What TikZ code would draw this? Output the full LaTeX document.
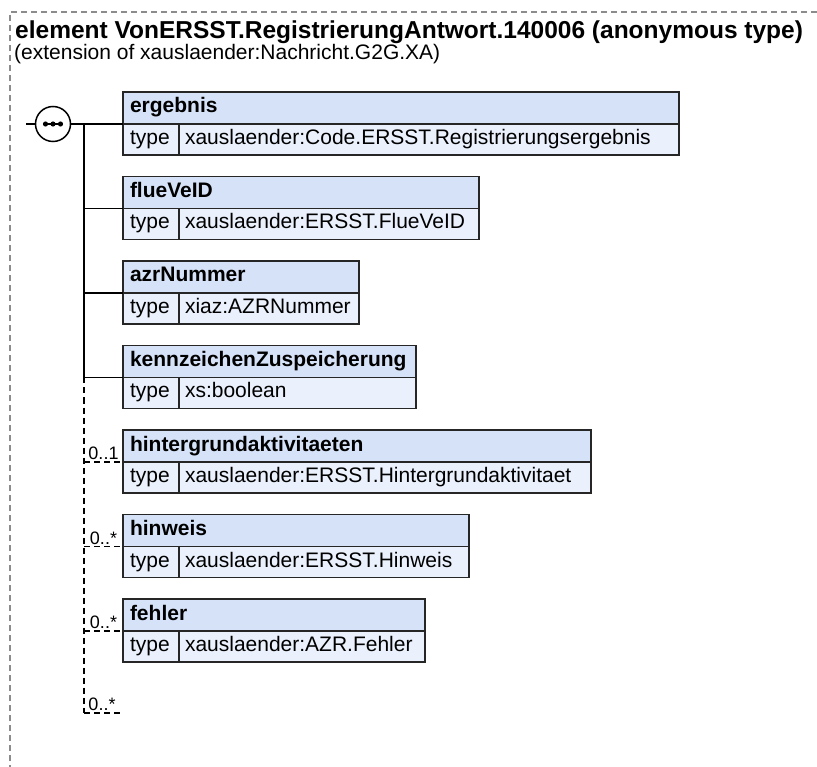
\documentclass[tikz,border=0pt]{standalone}
\usepackage{fontspec}
\setmainfont{Liberation Sans}
\usepackage{tikz}
\usetikzlibrary{positioning}
\definecolor{hdrblue}{HTML}{D5E2F7}
\definecolor{typeblue}{HTML}{EAF1FC}

\begin{document}
\begin{tikzpicture}[
  x=1pt, y=-1pt,
  font=\fontsize{21}{25}\selectfont,
  cell/.style={draw=black!85, line width=1.5pt, outer sep=0pt, inner ysep=0pt, text height=15pt, text depth=5pt, align=left},
  hdr/.style={cell, fill=hdrblue, minimum height=32pt, inner xsep=7pt, text width=#1, font=\fontsize{21}{25}\selectfont\bfseries},
  tkey/.style={cell, fill=typeblue, minimum height=31pt, inner xsep=7pt, text width=42pt},
  tval/.style={cell, fill=typeblue, minimum height=31pt, inner xsep=6pt, text width=#1},
  seq/.style={draw, circle, line width=1.5pt, outer sep=0pt, fill=white, minimum size=35pt, inner sep=0pt},
  link/.style={line width=1.5pt},
  opt/.style={link, dash pattern=on 6pt off 4pt},
  card/.style={font=\fontsize{18}{20}\selectfont, inner sep=1.5pt},
  frame/.style={draw=black!45, line width=1.4pt, dash pattern=on 6pt off 4pt}
]
\useasboundingbox (0,0) rectangle (817,767);
\draw[frame] (817,12) -- (10,12) -- (10,767);
\node[anchor=base west, inner sep=0pt, font=\fontsize{24.5}{28}\selectfont\bfseries] (title) at (15,39) {element VonERSST.RegistrierungAntwort.140006 (anonymous type)};
\node[anchor=base west, inner sep=0pt] (sub) at (14,60) {(extension of xauslaender:Nachricht.G2G.XA)};

% child elements
\node[hdr=542pt, anchor=north west] (h1) at (123,92) {ergebnis};
\node[tkey] (t1) [below right=0pt and 0pt of h1.south west] {type};
\node[tval=488pt, anchor=north west] (v1) at (t1.north east) {xauslaender:Code.ERSST.Registrierungsergebnis};

\node[hdr=342pt] (h2) [below right=21.5pt and 0pt of t1.south west] {flueVeID};
\node[tkey] (t2) [below right=0pt and 0pt of h2.south west] {type};
\node[tval=288pt, anchor=north west] (v2) at (t2.north east) {xauslaender:ERSST.FlueVeID};

\node[hdr=222pt] (h3) [below right=21.5pt and 0pt of t2.south west] {azrNummer};
\node[tkey] (t3) [below right=0pt and 0pt of h3.south west] {type};
\node[tval=168pt, anchor=north west] (v3) at (t3.north east) {xiaz:AZRNummer};

\node[hdr=279pt] (h4) [below right=21.5pt and 0pt of t3.south west] {kennzeichenZuspeicherung};
\node[tkey] (t4) [below right=0pt and 0pt of h4.south west] {type};
\node[tval=225pt, anchor=north west] (v4) at (t4.north east) {xs:boolean};

\node[hdr=454pt] (h5) [below right=21.5pt and 0pt of t4.south west] {hintergrundaktivitaeten};
\node[tkey] (t5) [below right=0pt and 0pt of h5.south west] {type};
\node[tval=400pt, anchor=north west] (v5) at (t5.north east) {xauslaender:ERSST.Hintergrundaktivitaet};

\node[hdr=332pt] (h6) [below right=21.5pt and 0pt of t5.south west] {hinweis};
\node[tkey] (t6) [below right=0pt and 0pt of h6.south west] {type};
\node[tval=278pt, anchor=north west] (v6) at (t6.north east) {xauslaender:ERSST.Hinweis};

\node[hdr=288pt] (h7) [below right=21.5pt and 0pt of t6.south west] {fehler};
\node[tkey] (t7) [below right=0pt and 0pt of h7.south west] {type};
\node[tval=234pt, anchor=north west] (v7) at (t7.north east) {xauslaender:AZR.Fehler};

% sequence compositor
\node[seq] (s) at (53,124) {};
\draw[link] ([xshift=-8pt]s.center) -- ([xshift=8pt]s.center);
\foreach \d in {-7.5,0,7.5}
  \fill ([xshift=\d pt]s.center) circle (2.6pt);

% connectors
\coordinate (in) at (26,124);
\coordinate (sp) at (84,124);
\coordinate (last) at (120,713);
\draw[link] (in) -- (s.west);
\draw[link] (s.east) -- (s.east -| t1.north west);
\draw[link] (sp) -- (sp |- t4.north west);
\draw[opt] (sp |- t4.north west) -- (sp |- last);
\draw[link] (sp |- t2.north west) -- (t2.north west);
\draw[link] (sp |- t3.north west) -- (t3.north west);
\draw[link] (sp |- t4.north west) -- (t4.north west);
\draw[opt] (sp |- t5.north west) -- node[card, above]{0..1} (t5.north west);
\draw[opt] (sp |- t6.north west) -- node[card, above]{0..*} (t6.north west);
\draw[opt] (sp |- t7.north west) -- node[card, above]{0..*} (t7.north west);
\draw[opt] (sp |- last) -- node[card, above]{0..*} (last);
\end{tikzpicture}
\end{document}
